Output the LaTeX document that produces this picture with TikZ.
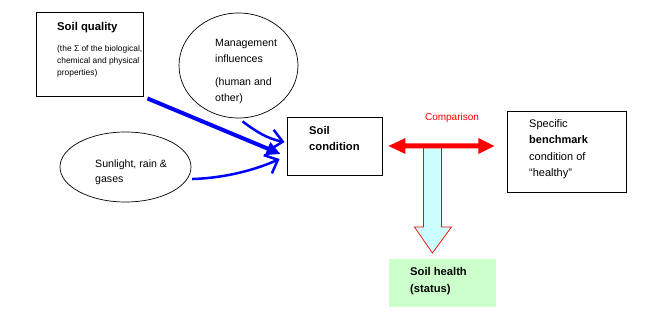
\documentclass[tikz,border=0pt]{standalone}
\usepackage{fontspec}
\setmainfont{Liberation Sans}
\usetikzlibrary{arrows.meta,shapes.geometric,calc}
\definecolor{blueA}{RGB}{0,0,255}
\definecolor{redA}{RGB}{255,0,0}
\definecolor{cyanlt}{RGB}{204,255,255}
\definecolor{greenlt}{RGB}{204,255,204}
\begin{document}
\begin{tikzpicture}[x=1pt,y=-1pt,
  box/.style={draw=black, line width=0.9pt, rectangle, inner sep=0pt},
  oval/.style={draw=black, line width=0.7pt, ellipse, inner sep=0pt},
  txt/.style={anchor=north west, inner sep=0pt, align=left},
  bluethick/.style={draw=blueA, line width=4pt, -{Triangle[length=14pt,width=13pt]}},
  bluethin/.style={draw=blueA, line width=2.5pt, -{Straight Barb[length=11pt,width=20pt]}}]
\path[use as bounding box] (0,0) rectangle (657,329);
% boxes
\node[box, minimum width=107, minimum height=84] (sq) at (89.5,54) {};
\node[box, minimum width=95, minimum height=58] (sc) at (334.5,146) {};
\node[box, minimum width=119, minimum height=81] (bm) at (566.5,151.5) {};
\node[rectangle, fill=greenlt, minimum width=107, minimum height=48, inner sep=0pt] (sh) at (442.5,283) {};
\node[oval, minimum width=119, minimum height=105] (mg) at (238.5,65.5) {};
\node[oval, minimum width=131, minimum height=70] (sun) at (125.5,167) {};
% texts
\node[txt, font=\fontsize{11.3}{16}\selectfont\bfseries] (sqt) at (57,22) {Soil quality};
\node[txt, font=\fontsize{8.4}{12}\selectfont] (sqs) at (57,45) {(the Σ of the biological,\\chemical and physical\\properties)};
\node[txt, font=\fontsize{10.6}{16}\selectfont] (mgt) at (215,39) {Management\\influences\\[7pt](human and\\other)};
\node[txt, font=\fontsize{10.6}{15}\selectfont] (sunt) at (95,160) {Sunlight, rain \&\\gases};
\node[txt, font=\fontsize{11.2}{16}\selectfont\bfseries] (sct) at (309,126) {Soil\\condition};
\node[txt, font=\fontsize{11}{16.5}\selectfont] (bmt) at (529,119) {Specific\\\textbf{benchmark}\\condition of\\“healthy”};
\node[txt, font=\fontsize{11.2}{17}\selectfont\bfseries] (sht) at (410,267.5) {Soil health\\(status)};
\node[inner sep=0pt, text=redA, font=\fontsize{10}{12}\selectfont] (cmp) at (452,118) {Comparison};
% cyan down arrow
\coordinate (ct) at ($(sc.east)+(50,0)$);
\draw[redA, line width=0.7pt, fill=cyanlt] (ct) ++(-9,0) -- ++(0,81) -- ++(-9,0) -- ++(18,26) -- ++(19,-26) -- ++(-10,0) -- ++(0,-81) -- cycle;
% red double arrow
\coordinate (rl) at ($(sc.east)+(6,0)$);
\fill[redA] (rl) -- ++(17,-8) -- ++(0,5.5) -- ++(73,0) -- ++(0,-5.5) -- ++(16,8) -- ++(-16,8) -- ++(0,-5.5) -- ++(-73,0) -- ++(0,5.5) -- cycle;
% blue arrows
\draw[bluethick] ($(sq.south east)+(4,2)$) -- ($(sc.west)+(-6,8)$);
\draw[bluethin] ($(mg.south)+(4,3)$) .. controls (255,131) and (268,139) .. ($(sc.west)+(-2,-4)$);
\draw[bluethin] ($(sun.-10)+(4,1)$) .. controls (225,178) and (255,170) .. ($(sc.west)+(-7,13)$);
\end{tikzpicture}
\end{document}
